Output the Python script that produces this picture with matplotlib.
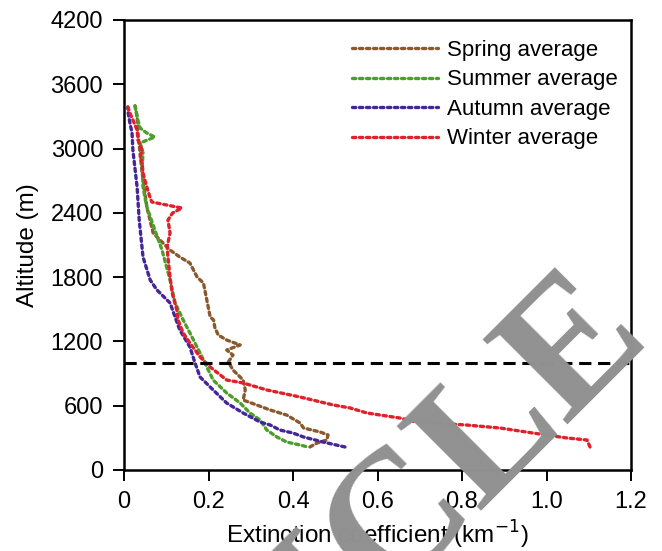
import matplotlib
matplotlib.use("Agg")
import matplotlib.pyplot as plt

# ---- data (extinction coefficient km^-1 vs altitude m) ----
spring_alt = [215, 252, 280, 327, 355, 392, 438, 513, 560, 607, 653, 747, 840, 933, 1008, 1073,
              1120, 1167, 1213, 1260, 1330, 1400, 1428, 1587, 1745, 1801, 1932, 1988, 2053, 2175,
              2212, 2455, 2772, 2958, 3145, 3300, 3400]
spring_x = [0.440, 0.457, 0.480, 0.483, 0.464, 0.425, 0.417, 0.385, 0.346, 0.314, 0.282, 0.287,
            0.282, 0.258, 0.247, 0.258, 0.243, 0.275, 0.243, 0.223, 0.215, 0.212, 0.204, 0.196,
            0.188, 0.173, 0.156, 0.132, 0.109, 0.078, 0.069, 0.054, 0.043, 0.038, 0.033, 0.031, 0.026]

summer_alt = [220, 233, 261, 308, 373, 467, 532, 625, 719, 840, 961, 1092, 1279, 1400, 1559, 1773,
              2053, 2240, 2455, 2641, 2828, 2958, 3052, 3108, 3145, 3192, 3295, 3400]
summer_x = [0.430, 0.417, 0.385, 0.362, 0.338, 0.322, 0.298, 0.275, 0.243, 0.211, 0.196, 0.180,
            0.156, 0.140, 0.121, 0.109, 0.090, 0.073, 0.054, 0.045, 0.043, 0.045, 0.038, 0.073,
            0.054, 0.038, 0.031, 0.026]

autumn_alt = [215, 261, 308, 345, 373, 420, 448, 532, 625, 747, 868, 1000, 1148, 1307, 1559, 1680,
              1773, 1988, 2333, 2641, 2987, 3145, 3239, 3332, 3385]
autumn_x = [0.523, 0.471, 0.425, 0.400, 0.369, 0.346, 0.322, 0.282, 0.243, 0.211, 0.180, 0.168,
            0.156, 0.132, 0.109, 0.078, 0.062, 0.045, 0.036, 0.031, 0.021, 0.019, 0.014, 0.010, 0.009]

winter_alt = [215, 280, 299, 345, 392, 420, 439, 448, 485, 532, 579, 607, 681, 747, 812, 840, 961,
              1055, 1185, 1279, 1400, 1493, 1652, 1801, 1988, 2081, 2212, 2333, 2399, 2445, 2501,
              2539, 2641, 2772, 2865, 2921, 2987, 3080, 3173, 3267, 3332, 3390]
winter_x = [1.103, 1.096, 1.048, 0.968, 0.890, 0.810, 0.731, 0.693, 0.653, 0.575, 0.535, 0.495,
            0.417, 0.338, 0.282, 0.243, 0.204, 0.180, 0.156, 0.140, 0.128, 0.125, 0.114, 0.109,
            0.104, 0.102, 0.109, 0.104, 0.115, 0.137, 0.066, 0.062, 0.054, 0.045, 0.043, 0.038,
            0.043, 0.033, 0.031, 0.021, 0.014, 0.009]

series = [
    ("Spring average", spring_x, spring_alt, "#8a5a2e"),
    ("Summer average", summer_x, summer_alt, "#4e9e2a"),
    ("Autumn average", autumn_x, autumn_alt, "#45259a"),
    ("Winter average", winter_x, winter_alt, "#e0212b"),
]

boundary_alt = 1000
x_ticks = [0, 0.2, 0.4, 0.6, 0.8, 1.0, 1.2]
x_ticklabels = ["0", "0.2", "0.4", "0.6", "0.8", "1.0", "1.2"]
y_ticks = [0, 600, 1200, 1800, 2400, 3000, 3600, 4200]

plt.rcParams['font.family'] = ['Liberation Sans', 'DejaVu Sans']

fig = plt.figure(figsize=(6.62, 5.51), dpi=100)
ax = fig.add_axes([124/662, 81/551, (631-124)/662, (470-20)/551])

for label, xs, ys, col in series:
    ax.plot(xs, ys, color=col, lw=2.4, linestyle=(0, (1, 1.1)), dash_capstyle='round',
            label=label)

ax.axhline(boundary_alt, color='black', lw=2.2, linestyle=(0, (4, 2.2)))

ax.set_xlim(0, 1.2)
ax.set_ylim(0, 4200)
ax.set_xticks(x_ticks)
ax.set_xticklabels(x_ticklabels)
ax.set_yticks(y_ticks)
ax.tick_params(direction='out', length=8, width=1.4, labelsize=17, pad=7)
for s in ax.spines.values():
    s.set_linewidth(1.8)
ax.set_xlabel("Extinction coefficient (km$^{-1}$)", fontsize=17.5, labelpad=4)
ax.set_ylabel("Altitude (m)", fontsize=17.5, labelpad=8)

leg = ax.legend(loc='upper right', frameon=False, fontsize=16, handlelength=3.9,
                handletextpad=0.4, labelspacing=0.38, bbox_to_anchor=(1.014, 1.0))

# watermark
fig.text(652/662, 1 - 338/551, "ARTICLE", rotation=45, rotation_mode='anchor',
         ha='right', va='baseline', fontsize=132, fontweight='bold', color='#919191',
         family='Liberation Serif', zorder=10)

fig.savefig("out.png", dpi=100)
